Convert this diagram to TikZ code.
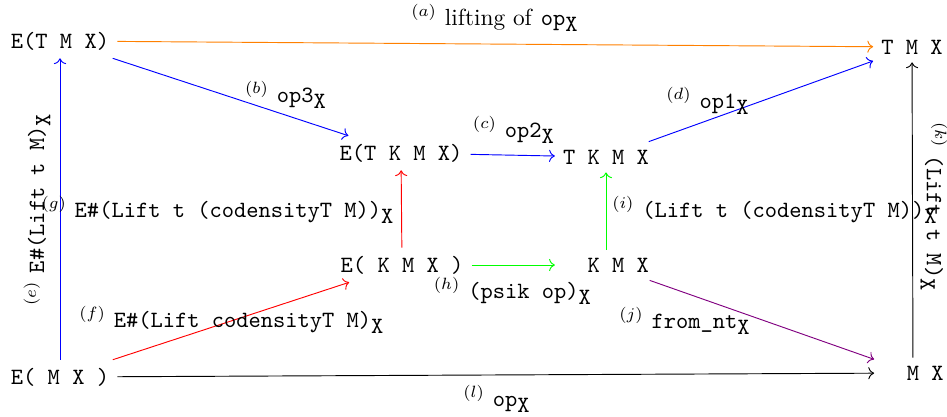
\documentclass[tikz,border=0pt]{standalone}
\usepackage{amsmath,amssymb}
\usepackage{tikz}
\usetikzlibrary{arrows.meta,positioning}
\usepackage{xcolor}
\definecolor{liftorange}{RGB}{255,128,0}
\definecolor{ntviolet}{RGB}{128,0,128}
\newcommand{\subX}{$_{\mbox{\texttt{X}}}$}

\begin{document}
\begin{tikzpicture}[x=0.015063cm, y=-0.015063cm,
    obj/.style={font=\ttfamily},
    lbl/.style={inner sep=1pt}]
    \useasboundingbox (0,0) rectangle (947,416);

    % ── Objects ──────────────────────────────────────────────────────────────
    \node[obj] (etmx)  at (60,41)   {E(T M X)};
    \node[obj] (tmx)   at (912,47)  {T M X};
    \node[obj] (etkmx) at (401,153) {E(T K M X)};
    \node[obj] (tkmx)  at (606,157) {T K M X};
    \node[obj] (ekmx)  at (402,265) {E( K M X )};
    \node[obj] (kmx)   at (606,265) {\phantom{T} K M X};
    \node[obj] (emx)   at (60,377)  {E( M X )};
    \node[obj] (mx)    at (913,373) {\phantom{T} M X};

    % ── Morphisms ────────────────────────────────────────────────────────────
    \draw[->,liftorange] (etmx) -- (tmx);
    \draw[->,blue] (etmx) -- (etkmx);
    \draw[->,blue] (etkmx) -- (tkmx);
    \draw[->,blue] (tkmx) -- (tmx);
    \draw[->,blue] (emx) -- (etmx);
    \draw[->,red] (emx) -- (ekmx);
    \draw[->,red] (ekmx) -- (etkmx);
    \draw[->,green] (ekmx) -- (kmx);
    \draw[->,green] (kmx) -- (tkmx);
    \draw[->,ntviolet] (kmx) -- (mx);
    \draw[->] (mx) -- (tmx);
    \draw[->] (emx) -- (mx);

    % ── Labels ───────────────────────────────────────────────────────────────
    \node[lbl] (la) at (495,18)  {$^{(a)}$ lifting of \texttt{op}\subX};
    \node[lbl] (lb) at (286,95)  {$^{(b)}$ \texttt{op3}\subX};
    \node[lbl] (lc) at (514,130) {$^{(c)}$ \texttt{op2}\subX};
    \node[lbl] (ld) at (708,101) {$^{(d)}$ \texttt{op1}\subX};
    \node[lbl,rotate=90] (le) at (37,209)
      {$^{(e)}$ \texttt{E\#(Lift t M)}\subX};
    \node[lbl] (lf) at (232,320) {$^{(f)}$ \texttt{E\#(Lift codensityT M)}\subX};
    \node[lbl] (lg) at (218,210) {$^{(g)}$ \texttt{E\#(Lift t (codensityT M))}\subX};
    \node[lbl] (lh) at (513,291) {$^{(h)}$ \texttt{(psik op)}\subX};
    \node[lbl] (li) at (775,210) {$^{(i)}$ \texttt{(Lift t (codensityT M))}\subX};
    \node[lbl] (lj) at (685,321) {$^{(j)}$ \texttt{from\_nt}\subX};
    \node[lbl,rotate=-90] (lk) at (934,207)
      {$^{(k)}$ \texttt{(Lift t M)}\subX};
    \node[lbl] (ll) at (497,399) {$^{(l)}$ \texttt{op}\subX};
\end{tikzpicture}
\end{document}
